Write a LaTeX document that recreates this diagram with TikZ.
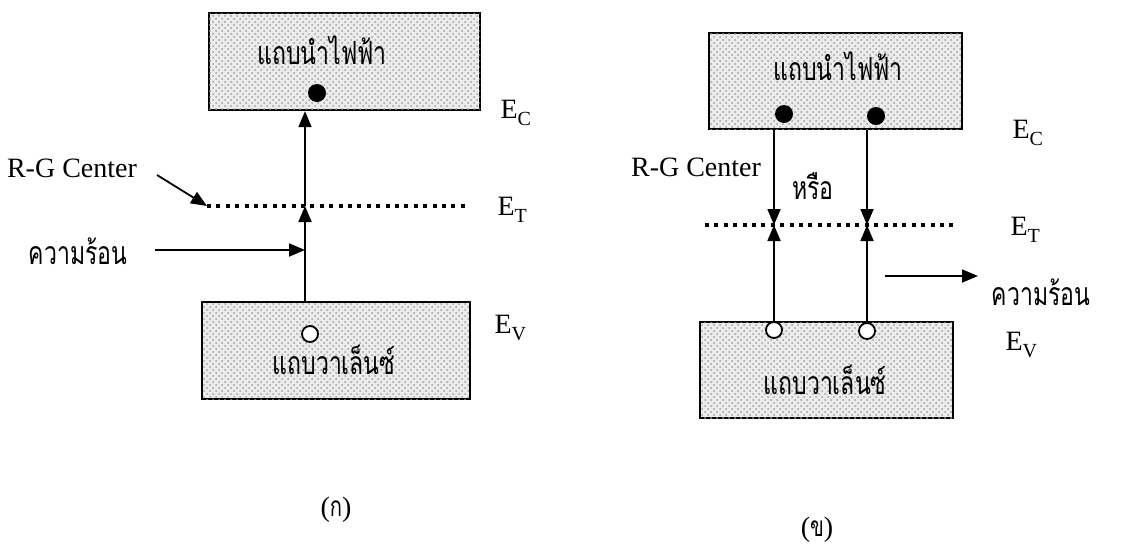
\documentclass[tikz,border=0pt]{standalone}
\usepackage{fontspec}
\setmainfont{Liberation Serif}
\newfontfamily\thaifont[Script=Thai, FakeStretch=0.72]{Loma}
\usetikzlibrary{arrows.meta,patterns}

\newcommand{\elev}[1]{E\raisebox{-0.55ex}{\fontsize{10}{10}\selectfont #1}}

\tikzset{
    band/.style={draw, line width=1.2pt, fill=gray!15, inner sep=0pt,
        postaction={pattern=crosshatch dots, pattern color=gray!75}},
    electron/.style={circle, fill=black, minimum size=9pt, inner sep=0pt},
    hole/.style={circle, draw, line width=0.9pt, fill=white, minimum size=8pt, inner sep=0pt},
    trap/.style={line width=2pt, dash pattern=on 2pt off 2.7pt},
    thtxt/.style={font=\thaifont\fontsize{16}{18}\selectfont},
    lbl/.style={font=\fontsize{14}{16}\selectfont},
}

\begin{document}
\begin{tikzpicture}[x=0.5pt, y=-0.5pt, >={Triangle[length=8pt, width=6.5pt]}, line width=0.9pt]
    \useasboundingbox (0,0) rectangle (1140,547);

    % รูป (ก)
    \node[band, minimum width=135.5pt, minimum height=48.5pt] (cb1) at (344.5,61.5) {};
    \node[thtxt] (cbt1) at (322,50) {แถบนำไฟฟ้า};
    \node[electron] (el1) at (317,93) {};

    \node[band, minimum width=134pt, minimum height=48.5pt] (vb1) at (336,350.5) {};
    \node[hole] (ho1) at (310,334) {};
    \node[thtxt] (vbt1) at (334,360) {แถบวาเล็นซ์};

    \coordinate (et1) at (305,206);
    \coordinate (et1w) at (207,206);
    \coordinate (et1e) at (468,206);
    \draw[trap] (et1w) -- (et1e);

    \draw[->] (et1 |- vb1.north) -- (et1);
    \draw[->] (et1) -- (et1 |- cb1.south);

    \node[lbl] (rg1) at (72,168) {R-G Center};
    \coordinate (rg1tail) at (157,175);
    \draw[->] (rg1tail) -- (et1w);

    \node[thtxt] (heat1) at (78,251) {ความร้อน};
    \coordinate (heat1tail) at (155,250);
    \coordinate (heat1tip) at (305,250);
    \draw[->] (heat1tail) -- (heat1tip);

    \node[lbl, anchor=base west] (ec1) at (493,118) {\elev{C}};
    \node[lbl, anchor=base west] (et1l) at (490,215) {\elev{T}};
    \node[lbl, anchor=base west] (ev1) at (487,333) {\elev{V}};

    \node[lbl] (capa) at (336,510) {({\thaifont ก})};

    % รูป (ข)
    \node[band, minimum width=126.5pt, minimum height=48pt] (cb2) at (835.5,81) {};
    \node[thtxt] (cbt2) at (838,66) {แถบนำไฟฟ้า};
    \node[electron] (el2a) at (784,114) {};
    \node[electron] (el2b) at (876,116) {};

    \node[band, minimum width=126.5pt, minimum height=48pt] (vb2) at (826.5,370) {};
    \node[hole] (ho2a) at (774,330) {};
    \node[hole] (ho2b) at (867,331) {};
    \node[thtxt] (vbt2) at (825,380) {แถบวาเล็นซ์};

    \coordinate (et2a) at (774,225);
    \coordinate (et2b) at (867,225);
    \coordinate (et2w) at (705,225);
    \coordinate (et2e) at (955,225);
    \draw[trap] (et2w) -- (et2e);

    \draw[->] (et2a |- cb2.south) -- (et2a);
    \draw[->] (ho2a.north) -- (et2a);
    \draw[->] (et2b |- cb2.south) -- (et2b);
    \draw[->] (ho2b.north) -- (et2b);

    \node[lbl] (rg2) at (696,167) {R-G Center};
    \node[thtxt] (or2) at (813,186) {หรือ};

    \coordinate (heat2tail) at (885,276);
    \coordinate (heat2tip) at (978,276);
    \draw[->] (heat2tail) -- (heat2tip);
    \node[thtxt] (heat2) at (1041,292) {ความร้อน};

    \node[lbl, anchor=base west] (ec2) at (1005,138) {\elev{C}};
    \node[lbl, anchor=base west] (et2l) at (1003,235) {\elev{T}};
    \node[lbl, anchor=base west] (ev2) at (998,350) {\elev{V}};

    \node[lbl] (capb) at (817,530) {({\thaifont ข})};
\end{tikzpicture}
\end{document}
